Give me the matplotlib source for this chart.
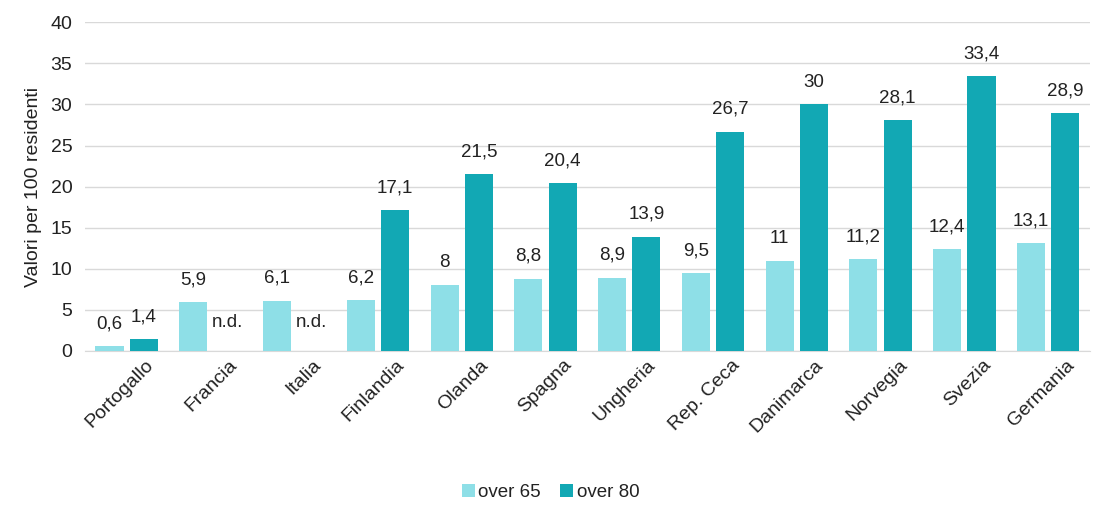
import numpy as np
import matplotlib.pyplot as plt
import matplotlib.transforms as mtransforms

plt.rcParams['font.family'] = ['Liberation Sans', 'DejaVu Sans']

paesi = ["Portogallo", "Francia", "Italia", "Finlandia", "Olanda", "Spagna",
         "Ungheria", "Rep. Ceca", "Danimarca", "Norvegia", "Svezia", "Germania"]
over65 = [0.6, 5.9, 6.1, 6.2, 8.0, 8.8, 8.9, 9.5, 11.0, 11.2, 12.4, 13.1]
over80 = [1.4, None, None, 17.1, 21.5, 20.4, 13.9, 26.7, 30.0, 28.1, 33.4, 28.9]

col65 = "#8edfe7"
col80 = "#12a8b4"
txt = "#222222"

fig = plt.figure(figsize=(11.01, 5.05), dpi=100)
ax = fig.add_axes([0.077, 0.305, 0.913, 0.651])

x = np.arange(len(paesi))
w = 0.335
off = 0.205

v80 = [v if v is not None else 0 for v in over80]
ax.bar(x - off, over65, w, color=col65, label="over 65", zorder=3)
ax.bar(x + off, v80, w, color=col80, label="over 80", zorder=3)

def fmt(v):
    if v == int(v):
        return str(int(v))
    return f"{v:.1f}".replace(".", ",")

for i, v in enumerate(over65):
    ax.annotate(fmt(v), (x[i] - off, v), xytext=(0, 10), textcoords="offset points",
                ha="center", va="bottom", fontsize=13.5, color=txt)
for i, v in enumerate(over80):
    if v is None:
        ax.text(x[i] + off, 3.5, "n.d.", ha="center", va="center", fontsize=13.5, color=txt)
    else:
        ax.annotate(fmt(v), (x[i] + off, v), xytext=(0, 10), textcoords="offset points",
                    ha="center", va="bottom", fontsize=13.5, color=txt)

ax.set_xlim(-0.5, len(paesi) - 0.5)
ax.set_ylim(0, 40)
ax.set_yticks(range(0, 41, 5))
ax.tick_params(axis="y", length=0, labelsize=14, labelcolor=txt, pad=9)
ax.tick_params(axis="x", length=0, labelsize=14, labelcolor=txt, pad=4)
ax.set_xticks(x)
ax.set_xticklabels(paesi, rotation=45, ha="right", rotation_mode="anchor")
shift = mtransforms.ScaledTranslation(0.18, 0, fig.dpi_scale_trans)
for lab in ax.get_xticklabels():
    lab.set_transform(lab.get_transform() + shift)

ax.set_ylabel("Valori per 100 residenti", fontsize=14, color=txt, labelpad=6)
ax.grid(axis="y", color="#d9d9d9", linewidth=1, zorder=0)
for s in ["top", "right", "left"]:
    ax.spines[s].set_visible(False)
ax.spines["bottom"].set_color("#d9d9d9")

fig.legend(loc="center", bbox_to_anchor=(0.5, 0.025), ncol=2, frameon=False,
           fontsize=13.5, handlelength=0.7, handleheight=0.7, handletextpad=0.2,
           columnspacing=1.0, labelcolor=txt)

fig.savefig("out.png", dpi=100)
